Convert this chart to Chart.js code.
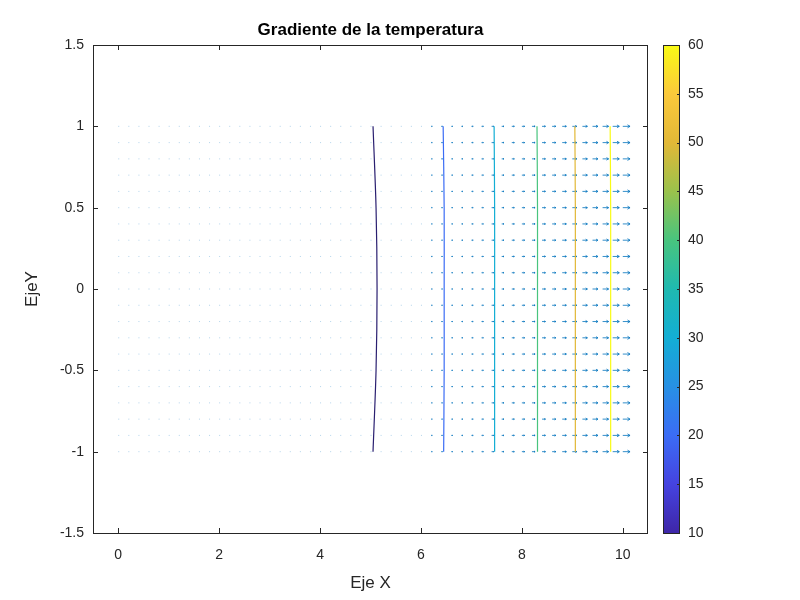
<!DOCTYPE html>
<html><head><meta charset="utf-8">
<script src="https://cdn.jsdelivr.net/npm/chart.js@4"></script>
<style>body{margin:0;background:#fff;width:800px;height:600px;position:relative;overflow:hidden}
#main{position:absolute;left:0;top:0}#cb{position:absolute;left:640px;top:0}</style>
</head><body>
<canvas id="main" width="800" height="600"></canvas>
<canvas id="cb" width="160" height="600"></canvas>
<script>
const title = 'Gradiente de la temperatura';
const xTicks = [0,2,4,6,8,10];
const yTicks = [-1.5,-1,-0.5,0,0.5,1,1.5];
const cbTicks = [10,15,20,25,30,35,40,45,50,55,60];
const gridX = [0,0.2,0.4,0.6,0.8,1,1.2,1.4,1.6,1.8,2,2.2,2.4,2.6,2.8,3,3.2,3.4,3.6,3.8,4,4.2,4.4,4.6,4.8,5,5.2,5.4,5.6,5.8,6,6.2,6.4,6.6,6.8,7,7.2,7.4,7.6,7.8,8,8.2,8.4,8.6,8.8,9,9.2,9.4,9.6,9.8,10];
const gridY = [-1,-0.9,-0.8,-0.7,-0.6,-0.5,-0.4,-0.3,-0.2,-0.1,0,0.1,0.2,0.3,0.4,0.5,0.6,0.7,0.8,0.9,1];
// arrow length per column (x units)
const gradLen = [0.002,0.002,0.002,0.002,0.002,0.003,0.003,0.003,0.003,0.003,0.004,0.004,0.004,0.005,0.005,0.006,0.006,0.006,0.007,0.008,0.008,0.009,0.01,0.011,0.012,0.013,0.015,0.016,0.018,0.02,0.022,0.024,0.026,0.029,0.032,0.035,0.038,0.042,0.046,0.051,0.056,0.062,0.068,0.074,0.082,0.09,0.099,0.108,0.119,0.131,0.144];
const levels = [10,20,30,40,50,60];
const contourY = [-1,-0.5,0,0.5,1];
const contourX = [
 [5.05,5.11,5.13,5.11,5.05],
 [6.45,6.46,6.46,6.46,6.44],
 [7.46,7.46,7.46,7.46,7.45],
 [8.31,8.31,8.31,8.31,8.30],
 [9.06,9.06,9.06,9.06,9.05],
 [9.76,9.76,9.76,9.76,9.75]];
const parula=[[0,'#3e26a8'],[0.1,'#4543e0'],[0.2,'#3b6cf5'],[0.3,'#2790e4'],[0.4,'#13aed4'],[0.5,'#1fb9b0'],[0.6,'#48c47e'],[0.7,'#9ac24c'],[0.8,'#e2b837'],[0.9,'#fbc93b'],[1,'#f9fb15']];
function hex(h){return [1,3,5].map(i=>parseInt(h.substr(i,2),16));}
function cmap(t){t=Math.max(0,Math.min(1,t));for(let i=1;i<parula.length;i++){if(t<=parula[i][0]){const a=parula[i-1],b=parula[i];const f=(t-a[0])/(b[0]-a[0]);const ca=hex(a[1]),cc=hex(b[1]);return 'rgb('+ca.map((v,k)=>Math.round(v+(cc[k]-v)*f)).join(',')+')';}}return parula[parula.length-1][1];}
const FONT="'Liberation Sans', Arial, sans-serif";
const datasets = levels.map((lv,i)=>({type:'line',data:contourY.map((y,j)=>({x:contourX[i][j],y})),borderColor:i===0?'#2a1f70':cmap((lv-10)/50),borderWidth:1.2,pointRadius:0,tension:0.3,fill:false}));
const quiver={id:'quiver',beforeDatasetsDraw(c){const x=c.scales.x,y=c.scales.y,ctx=c.ctx;ctx.save();ctx.strokeStyle='#0072BD';ctx.fillStyle='#0072BD';ctx.lineWidth=0.8;
 gridX.forEach((gx,i)=>{const L=gradLen[i];gridY.forEach(gy=>{const x0=x.getPixelForValue(gx),x1=x.getPixelForValue(gx+L),py=y.getPixelForValue(gy);const len=x1-x0;
 if(len<1.2){ctx.globalAlpha=0.3;ctx.fillRect(x0,py-0.5,1,1);ctx.globalAlpha=1;return;}
 ctx.beginPath();ctx.moveTo(x0,py);ctx.lineTo(x1,py);ctx.stroke();const h=Math.min(3,len*0.35);ctx.beginPath();ctx.moveTo(x1,py);ctx.lineTo(x1-h,py-h*0.6);ctx.moveTo(x1,py);ctx.lineTo(x1-h,py+h*0.6);ctx.stroke();});});ctx.restore();},
 afterDraw(c){const a=c.chartArea,ctx=c.ctx,x=c.scales.x,y=c.scales.y;ctx.save();ctx.strokeStyle='#262626';ctx.lineWidth=1;ctx.strokeRect(a.left+0.5,a.top+0.5,a.right-a.left-1,a.bottom-a.top);
 ctx.beginPath();xTicks.forEach(v=>{const p=Math.round(x.getPixelForValue(v))+0.5;ctx.moveTo(p,a.bottom);ctx.lineTo(p,a.bottom-5);ctx.moveTo(p,a.top);ctx.lineTo(p,a.top+5);});
 yTicks.forEach(v=>{const p=Math.round(y.getPixelForValue(v))+0.5;ctx.moveTo(a.left,p);ctx.lineTo(a.left+5,p);ctx.moveTo(a.right,p);ctx.lineTo(a.right-5,p);});ctx.stroke();
 ctx.fillStyle='#000';ctx.font='bold 17px '+FONT;ctx.textAlign='center';ctx.textBaseline='bottom';ctx.fillText(title,(a.left+a.right)/2,a.top-6);ctx.restore();}};
const fmt=v=>String(v);
new Chart(document.getElementById('main'),{data:{datasets},plugins:[quiver],options:{responsive:false,animation:false,events:[],
 layout:{padding:{left:22,top:45,right:152,bottom:6}},plugins:{legend:{display:false},tooltip:{enabled:false}},
 scales:{x:{type:'linear',min:-0.5,max:10.5,afterBuildTicks(s){s.ticks=xTicks.map(v=>({value:v}));},afterFit(s){s.height=61;},
  grid:{display:false},border:{display:false},ticks:{color:'#262626',font:{size:14,family:FONT},padding:6,maxRotation:0,callback:fmt},
  title:{display:true,text:'Eje X',color:'#262626',font:{size:17,family:FONT},padding:{top:4,bottom:0}}},
 y:{type:'linear',min:-1.5,max:1.5,afterBuildTicks(s){s.ticks=yTicks.map(v=>({value:v}));},afterFit(s){s.width=71;},
  grid:{display:false},border:{display:false},ticks:{color:'#262626',font:{size:14,family:FONT},padding:1,callback:fmt},
  title:{display:true,text:'EjeY',color:'#262626',font:{size:17,family:FONT},padding:{top:0,bottom:4}}}}}});
const cbPlug={id:'cbp',beforeDraw(c){const a=c.chartArea,ctx=c.ctx,s=c.scales.y;const g=ctx.createLinearGradient(0,s.getPixelForValue(10),0,s.getPixelForValue(60));parula.forEach(p=>g.addColorStop(p[0],p[1]));ctx.fillStyle=g;ctx.fillRect(a.left,a.top,a.right-a.left,a.bottom-a.top);},
 afterDraw(c){const a=c.chartArea,ctx=c.ctx,s=c.scales.y;ctx.save();ctx.strokeStyle='#262626';ctx.lineWidth=1;ctx.strokeRect(a.left+0.5,a.top+0.5,a.right-a.left-1,a.bottom-a.top);ctx.beginPath();cbTicks.forEach(v=>{const p=Math.round(s.getPixelForValue(v))+0.5;ctx.moveTo(a.right,p);ctx.lineTo(a.right-3,p);});ctx.stroke();ctx.restore();}};
new Chart(document.getElementById('cb'),{type:'scatter',data:{datasets:[{data:[]}]},plugins:[cbPlug],options:{responsive:false,animation:false,events:[],
 layout:{padding:{left:23,top:45,bottom:67,right:0}},plugins:{legend:{display:false},tooltip:{enabled:false}},
 scales:{x:{display:false,min:0,max:1},y:{position:'right',min:10,max:60,afterBuildTicks(s){s.ticks=cbTicks.map(v=>({value:v}));},afterFit(s){s.width=120;},
  grid:{display:false},border:{display:false},ticks:{color:'#262626',font:{size:14,family:FONT},padding:0}}}}});
</script></body></html>
